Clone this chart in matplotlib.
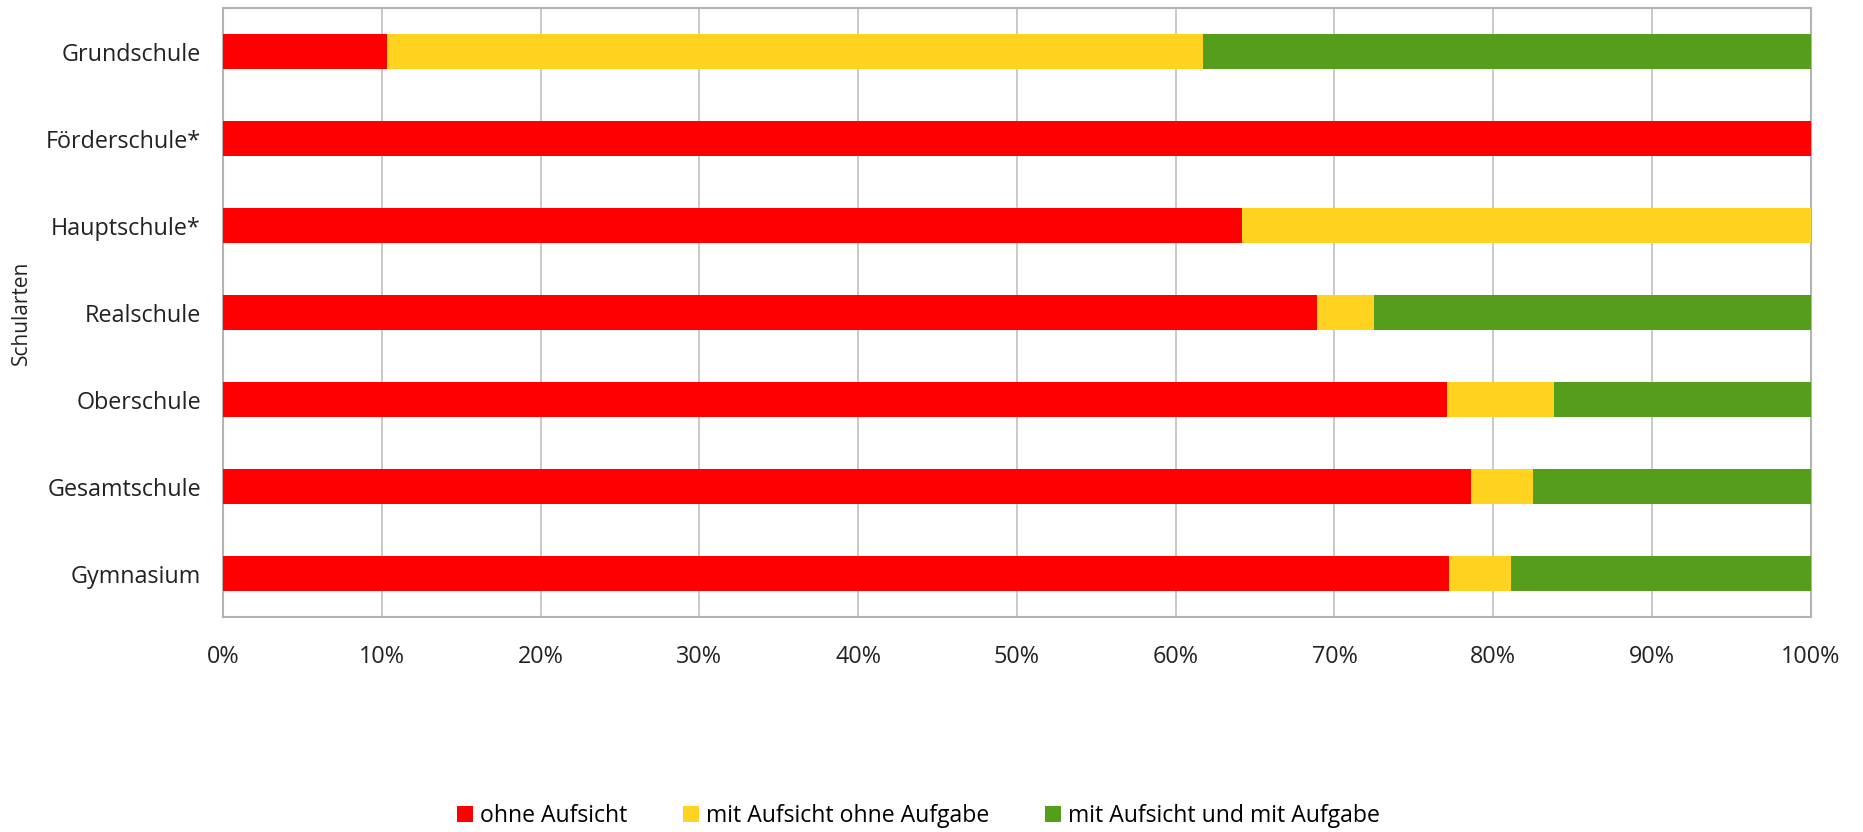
import matplotlib
matplotlib.use("Agg")
import matplotlib.pyplot as plt
from matplotlib.ticker import PercentFormatter, MultipleLocator
import numpy as np

plt.rcParams['font.family'] = ['Open Sans', 'DejaVu Sans']

categories = ["Grundschule", "Förderschule*", "Hauptschule*", "Realschule",
              "Oberschule", "Gesamtschule", "Gymnasium"]
ohne_aufsicht = [10.3, 100.0, 64.2, 68.9, 77.1, 78.6, 77.2]
mit_aufsicht_ohne_aufgabe = [51.45, 0.0, 35.8, 3.6, 6.7, 3.9, 3.9]
mit_aufsicht_mit_aufgabe = [38.25, 0.0, 0.0, 27.5, 16.2, 17.5, 18.9]
series_labels = ["ohne Aufsicht", "mit Aufsicht ohne Aufgabe", "mit Aufsicht und mit Aufgabe"]
colors = ["#FF0000", "#FFD320", "#579D1C"]

fig = plt.figure(figsize=(18.63, 8.32), dpi=100)
ax = fig.add_axes([0.1197, 0.2584, 0.8523, 0.7316])

y = np.arange(len(categories))
left = np.zeros(len(categories))
for vals, lab, col in zip([ohne_aufsicht, mit_aufsicht_ohne_aufgabe, mit_aufsicht_mit_aufgabe],
                          series_labels, colors):
    vals = np.array(vals)
    ax.barh(y, vals, left=left, height=0.4, color=col, label=lab, zorder=3)
    left += vals

ax.set_xlim(0, 100)
ax.set_ylim(len(categories) - 0.5, -0.5)
ax.set_yticks(y)
ax.set_yticklabels(categories, fontsize=16.8, color="#222222")
ax.xaxis.set_major_locator(MultipleLocator(10))
ax.xaxis.set_major_formatter(PercentFormatter(decimals=0))
ax.tick_params(axis='x', labelsize=16.8, colors="#222222", length=0, pad=20)
ax.tick_params(axis='y', length=0, pad=16)
ax.grid(axis='x', color="#c0c0c0", linewidth=1.2, zorder=0)
for s in ax.spines.values():
    s.set_color("#b3b3b3")
    s.set_linewidth(1.5)
ax.set_ylabel("Schularten", fontsize=15, color="#222222", va="center")
ax.yaxis.set_label_coords(-0.127, 0.5)

fig.legend(loc="center", bbox_to_anchor=(0.493, 0.019), ncol=3, frameon=False,
           fontsize=16.6, handlelength=0.7, handleheight=0.7, handletextpad=0.3,
           columnspacing=2.4)

fig.savefig("out.png", dpi=100)
